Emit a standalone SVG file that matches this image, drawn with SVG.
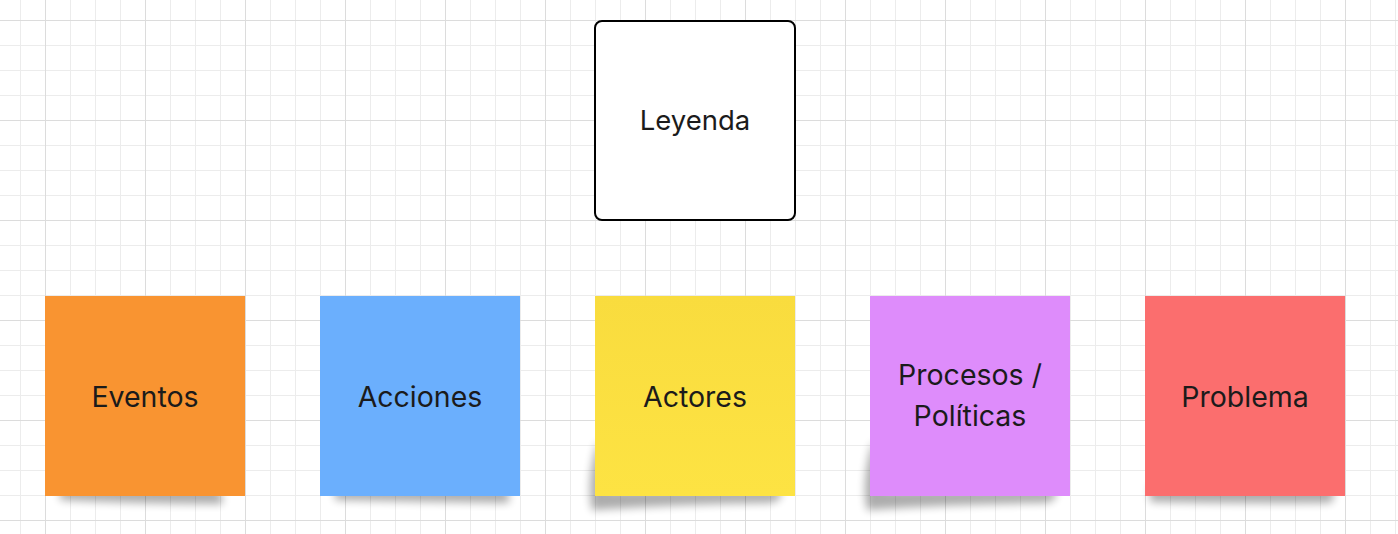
<svg xmlns="http://www.w3.org/2000/svg" width="1398" height="534" viewBox="0 0 1398 534">
<defs>
<pattern id="minor" x="20" y="20" width="25" height="25" patternUnits="userSpaceOnUse">
<path d="M0.5 0V25M0 0.5H25" stroke="#ececec" stroke-width="1" fill="none"/>
</pattern>
<pattern id="major" x="45" y="20" width="100" height="100" patternUnits="userSpaceOnUse">
<path d="M0.5 0V100M0 0.5H100" stroke="#dcdcdc" stroke-width="1" fill="none"/>
</pattern>
<filter id="blur" x="-20%" y="-50%" width="140%" height="200%"><feGaussianBlur stdDeviation="4"/></filter>
<linearGradient id="yg" x1="0" y1="0" x2="0" y2="1"><stop offset="0" stop-color="#F9DC3E"/><stop offset="1" stop-color="#FDE343"/></linearGradient>
<style>
.t{font-family:Inter,"Noto Sans",sans-serif;font-size:28.5px;fill:#1b1b1b;text-anchor:middle}
.lt{font-size:27.5px}
.sh{fill:#000;opacity:0.32;filter:url(#blur)}
</style>
</defs>
<rect width="1398" height="534" fill="#fff"/>
<rect width="1398" height="534" fill="url(#minor)"/>
<rect width="1398" height="534" fill="url(#major)"/>
<g id="connectors"></g>
<g id="leyenda">
<rect x="595" y="21" width="200" height="199" rx="7" fill="#fff" stroke="#000" stroke-width="2"/>
<text class="t lt" x="695" y="130">Leyenda</text>
</g>
<g id="eventos">
<path class="sh" d="M60 488H215Q225 494 222 504Q140 504 60 500Z"/>
<rect x="45" y="296" width="200" height="200" fill="#F99431"/>
<text class="t" x="145" y="407">Eventos</text>
</g>
<g id="acciones">
<path class="sh" d="M335 488H505Q512 496 508 503Q420 502 335 500Z"/>
<rect x="320" y="296" width="200" height="200" fill="#6BAFFD"/>
<text class="t" x="420" y="407">Acciones</text>
</g>
<g id="actores">
<path class="sh" d="M598 440L610 490H780Q785 500 770 503Q680 504 592 510Q586 480 598 440Z"/>
<rect x="595" y="296" width="200" height="200" fill="url(#yg)"/>
<text class="t" x="695" y="407">Actores</text>
</g>
<g id="procesos">
<path class="sh" d="M873 440L885 490H1055Q1060 500 1045 503Q955 504 867 510Q861 480 873 440Z"/>
<rect x="870" y="296" width="200" height="200" fill="#DE8CFB"/>
<text class="t" x="970" y="385">Procesos /</text>
<text class="t" x="970" y="426">Políticas</text>
</g>
<g id="problema">
<path class="sh" d="M1150 485H1330Q1338 496 1330 503Q1240 504 1150 502Z"/>
<rect x="1145" y="296" width="200" height="200" fill="#FB6E6E"/>
<text class="t" x="1245" y="407">Problema</text>
</g>
</svg>
